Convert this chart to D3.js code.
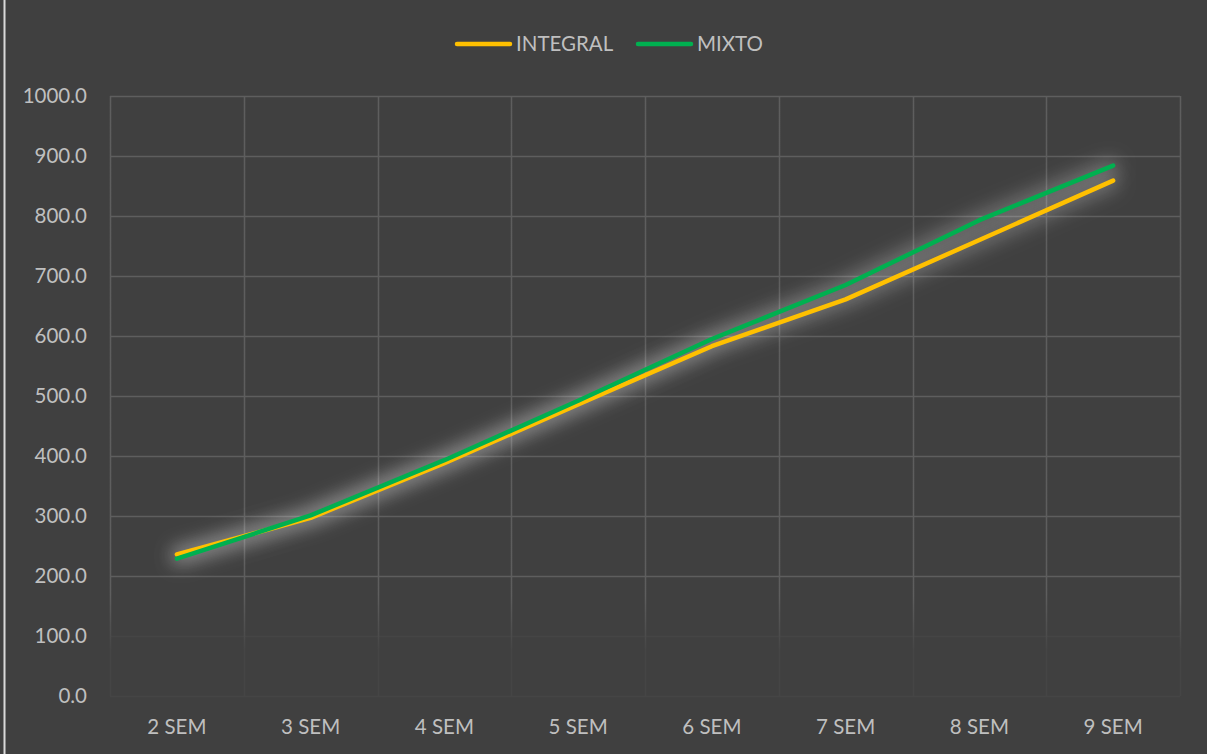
<!DOCTYPE html>
<html>
<head>
<meta charset="utf-8">
<script src="https://cdn.jsdelivr.net/npm/d3@7"></script>
<style>
  body { margin: 0; background: #404040; }
  svg { display: block; }
  text { font-family: Lato, "Open Sans", sans-serif; fill: #bfbfbf; }
</style>
</head>
<body>
<svg id="chart" width="1207" height="754"></svg>
<script>
// data
var categories = ["2 SEM", "3 SEM", "4 SEM", "5 SEM", "6 SEM", "7 SEM", "8 SEM", "9 SEM"]
var integral = [236, 297, 388, 486, 583, 661, 760, 859]
var mixto = [229, 301, 393, 492, 595, 685, 793, 884]
var yTicks = [0, 100, 200, 300, 400, 500, 600, 700, 800, 900, 1000]
var seriesNames = ["INTEGRAL", "MIXTO"]
var seriesColors = ["#ffc000", "#00b050"]

var W = 1207, H = 754
var m = {left: 110, right: 27, top: 96, bottom: 58}
var fsz = 20.5
var gridCol = "#5e5e5e"
var svg = d3.select("#chart")

svg.append("rect").attr("width", W).attr("height", H).attr("fill", "#404040")
// thin light edge on the left like the frame in the picture
svg.append("line").attr("x1", 4.5).attr("x2", 4.5).attr("y1", 0).attr("y2", H)
  .attr("stroke", "#d9d9d9").attr("stroke-width", 2)

var defs = svg.append("defs")
var glow = defs.append("filter").attr("id", "glow")
  .attr("x", "-20%").attr("y", "-30%").attr("width", "140%").attr("height", "160%")
glow.append("feMorphology").attr("in", "SourceAlpha").attr("operator", "dilate").attr("radius", 5).attr("result", "fat")
glow.append("feGaussianBlur").attr("in", "fat").attr("stdDeviation", 9).attr("result", "blur")
glow.append("feFlood").attr("flood-color", "#ffffff").attr("flood-opacity", 0.22)
glow.append("feComposite").attr("in2", "blur").attr("operator", "in")

// vertical grid fades out near the bottom, like the reference
var grad = defs.append("linearGradient").attr("id", "vfade")
  .attr("gradientUnits", "userSpaceOnUse")
  .attr("x1", 0).attr("x2", 0).attr("y1", 595).attr("y2", 650)
grad.append("stop").attr("offset", 0).attr("stop-color", gridCol)
grad.append("stop").attr("offset", 1).attr("stop-color", "#454545")

var x = d3.scaleBand().domain(categories).range([m.left, W - m.right])
var y = d3.scaleLinear().domain([0, 1000]).range([H - m.bottom, m.top])

var grid = svg.append("g")
grid.selectAll(".hg").data(yTicks).join("line")
  .attr("x1", m.left).attr("x2", W - m.right)
  .attr("y1", d => Math.round(y(d)) + 0.5).attr("y2", d => Math.round(y(d)) + 0.5)
  .attr("stroke", d => d < 200 ? "#454545" : gridCol).attr("stroke-width", 1.5)
var vx = categories.map(c => x(c)).concat([W - m.right])
grid.selectAll(".vg").data(vx).join("line")
  .attr("x1", d => Math.round(d) + 0.5).attr("x2", d => Math.round(d) + 0.5)
  .attr("y1", m.top).attr("y2", H - m.bottom)
  .attr("stroke", "url(#vfade)").attr("stroke-width", 1.5)

// y axis labels
svg.append("g").selectAll("text").data(yTicks).join("text")
  .attr("x", 87).attr("y", d => y(d)).attr("dy", "0.35em")
  .attr("text-anchor", "end").attr("font-size", fsz)
  .text(d => d3.format(".1f")(d))

// x axis labels
svg.append("g").selectAll("text").data(categories).join("text")
  .attr("x", d => x(d) + x.bandwidth() / 2).attr("y", 727).attr("dy", "0.35em")
  .attr("text-anchor", "middle").attr("font-size", fsz)
  .text(d => d)

var line = d3.line()
  .x((d, i) => x(categories[i]) + x.bandwidth() / 2)
  .y(d => y(d))

var allSeries = [integral, mixto]
var lines = svg.append("g")
lines.selectAll(".glow").data(allSeries).join("path")
  .attr("d", line).attr("fill", "none").attr("stroke", "#fff")
  .attr("stroke-width", 4.5).attr("filter", "url(#glow)")
lines.selectAll(".ln").data(allSeries).join("path")
  .attr("d", line).attr("fill", "none")
  .attr("stroke", (d, i) => seriesColors[i])
  .attr("stroke-width", 4.5).attr("stroke-linecap", "round").attr("stroke-linejoin", "round")

// legend
var lg = svg.append("g")
var lx = [457, 638]
seriesNames.forEach(function (n, i) {
  lg.append("line").attr("x1", lx[i]).attr("x2", lx[i] + 53).attr("y1", 44).attr("y2", 44)
    .attr("stroke", seriesColors[i]).attr("stroke-width", 4.5).attr("stroke-linecap", "round")
  lg.append("text").attr("x", lx[i] + 59).attr("y", 44).attr("dy", "0.35em")
    .attr("font-size", fsz).text(n)
})
</script>
</body>
</html>
